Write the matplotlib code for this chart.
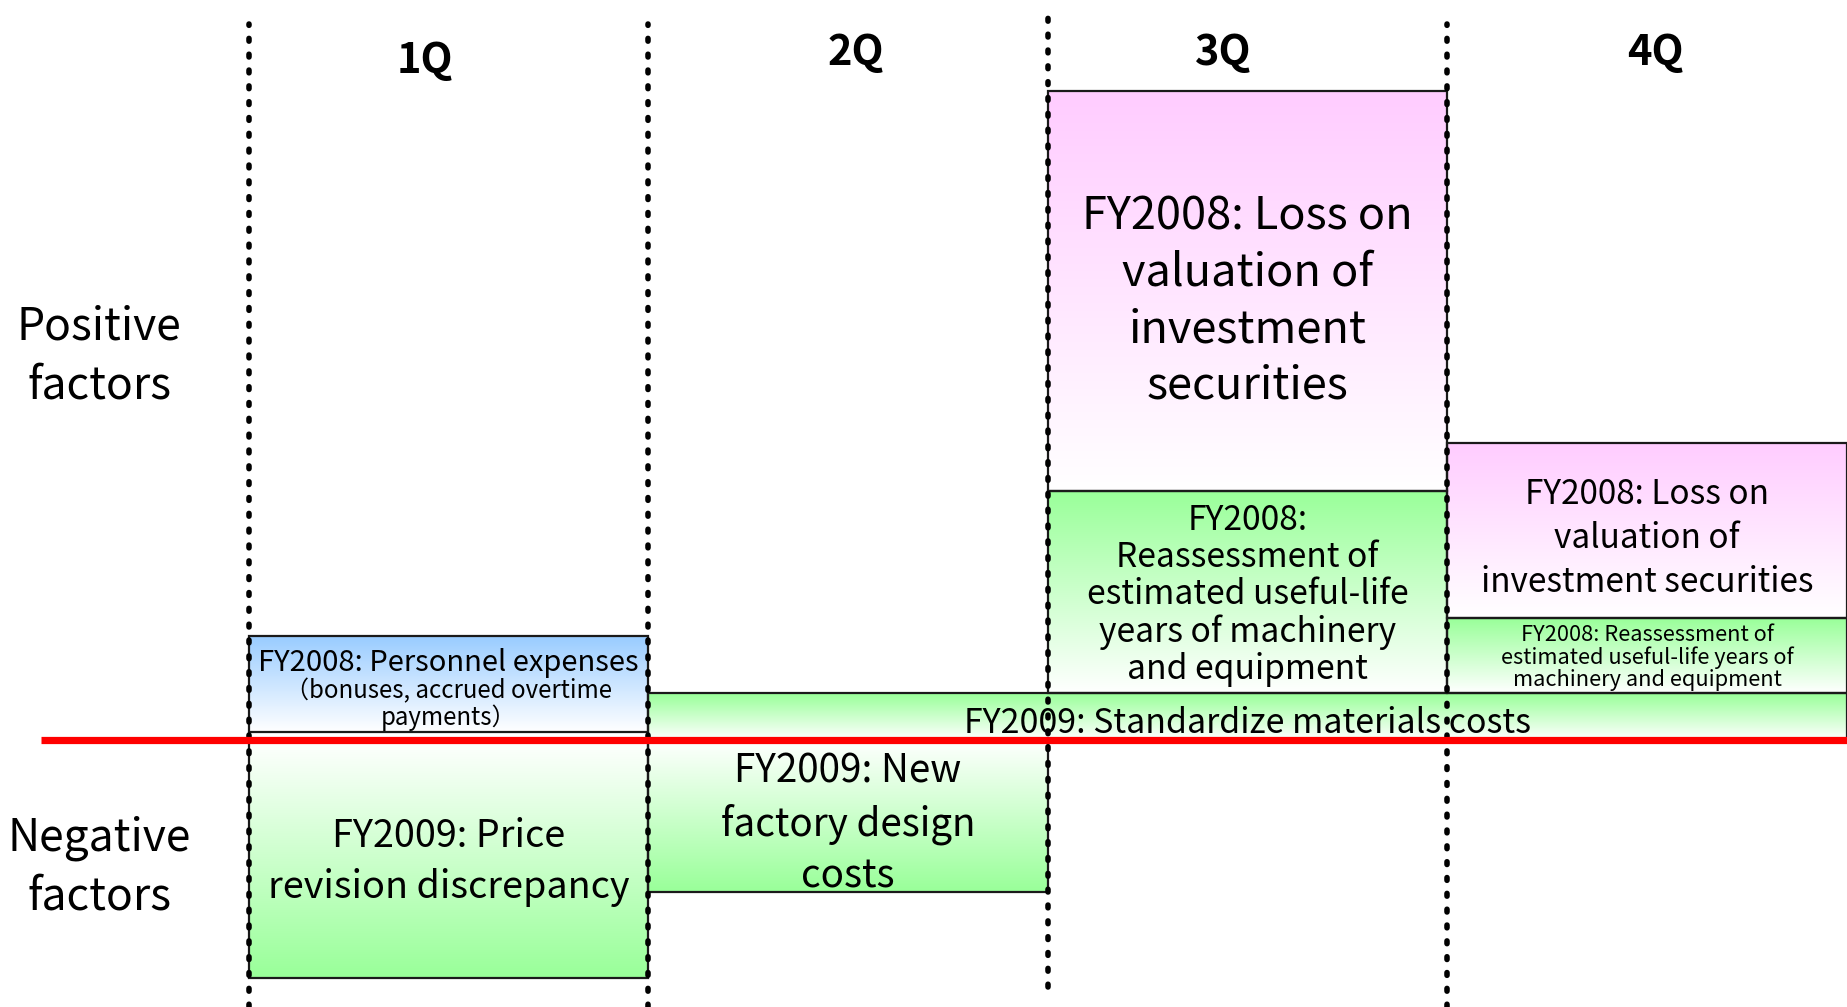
import numpy as np
import matplotlib.pyplot as plt
from matplotlib.colors import to_rgb
from matplotlib.patches import Rectangle

plt.rcParams['font.family'] = ['Noto Sans CJK JP', 'DejaVu Sans']

# Quarter columns and row labels
quarters = ['1Q', '2Q', '3Q', '4Q']
quarter_label_x = [0.44, 1.52, 2.44, 3.52]
quarter_label_y = [6.79, 6.87, 6.87, 6.87]
row_labels = ['Positive\nfactors', 'Negative\nfactors']
row_label_y = [3.84, -1.27]

# Factor boxes: quarter span, bottom/top relative to the zero line (1 unit = 100 px)
box_x0 = [0, 1, 2, 2, 3, 3, 0, 1]
box_x1 = [1, 4, 3, 3, 4, 4, 1, 2]
box_y0 = [0.08, 0.0, 0.47, 2.49, 0.47, 1.22, 0.0, 0.0]
box_y1 = [1.04, 0.47, 2.49, 6.49, 1.22, 2.97, -2.38, -1.52]
box_colors = ['#99ccff', '#99ff99', '#99ff99', '#ffccff',
              '#99ff99', '#ffccff', '#99ff99', '#99ff99']
box_texts = ['FY2008: Personnel expenses',
             'FY2009: Standardize materials costs',
             'FY2008:\nReassessment of\nestimated useful-life\nyears of machinery\nand equipment',
             'FY2008: Loss on\nvaluation of\ninvestment\nsecurities',
             'FY2008: Reassessment of\nestimated useful-life years of\nmachinery and equipment',
             'FY2008: Loss on\nvaluation of\ninvestment securities',
             'FY2009: Price\nrevision discrepancy',
             'FY2009: New\nfactory design\ncosts']
box_text_sizes = [21, 24.4, 24.2, 32.5, 15.7, 24, 27.2, 27.8]
box_text_ls = [1.0, 1.0, 1.08, 1.29, 1.0, 1.34, 1.38, 1.36]
box_text_dy = [0.21, -0.07, -0.03, -0.10, -0.02, -0.08, -0.03, -0.08]
sub_text = '（bonuses, accrued overtime\npayments）'

fig = plt.figure(figsize=(18.47, 10.07), dpi=100)
ax = fig.add_axes([0, 0, 1, 1])
ax.set_xlim(-0.622, 4.0)
ax.set_ylim(-2.67, 7.40)
ax.axis('off')

# gradient boxes: coloured at the end away from the zero line, fading to white
for x0, x1, y0, y1, c in zip(box_x0, box_x1, box_y0, box_y1, box_colors):
    col = np.array(to_rgb(c))
    t = np.linspace(0, 1, 256)[:, None]
    grad = (col * (1 - t) + np.ones(3) * t)[:, None, :]  # row 0 = far end
    lo, hi = min(y0, y1), max(y0, y1)
    img = grad if y1 > y0 else grad[::-1]
    ax.imshow(img, extent=[x0, x1, lo, hi], origin='upper', aspect='auto',
              interpolation='bilinear', zorder=1)
    ax.add_patch(Rectangle((x0, lo), x1 - x0, hi - lo, fill=False,
                           edgecolor='#1a1a1a', lw=1.6, zorder=2))

for x0, x1, y0, y1, txt, fs, ls, dy in zip(box_x0, box_x1, box_y0, box_y1, box_texts,
                                           box_text_sizes, box_text_ls, box_text_dy):
    ax.text((x0 + x1) / 2, (y0 + y1) / 2 + dy, txt, ha='center', va='center',
            fontsize=fs, linespacing=ls, zorder=5)
ax.text(0.5, 0.35, sub_text, ha='center', va='center', fontsize=17.3,
        linespacing=1.0, zorder=5)

# dotted quarter separators
line_top = [7.16, 7.16, 7.31, 7.16]
line_bottom = [-2.67, -2.67, -2.47, -2.67]
for i in range(4):
    ax.plot([i, i], [line_bottom[i], line_top[i]], color='black', lw=4.0,
            linestyle=(0, (0.5, 2.35)), dash_capstyle='round', zorder=3)

# zero line
ax.plot([-0.52, 4.0], [0, 0], color='#ff0000', lw=5.2, solid_capstyle='butt', zorder=4)

for q, x, y in zip(quarters, quarter_label_x, quarter_label_y):
    ax.text(x, y, q, ha='center', va='center', fontsize=30, fontweight='bold')
for lab, y in zip(row_labels, row_label_y):
    ax.text(-0.374, y, lab, ha='center', va='center', fontsize=32, linespacing=1.34)

fig.savefig('out.png', dpi=100, facecolor='white')
